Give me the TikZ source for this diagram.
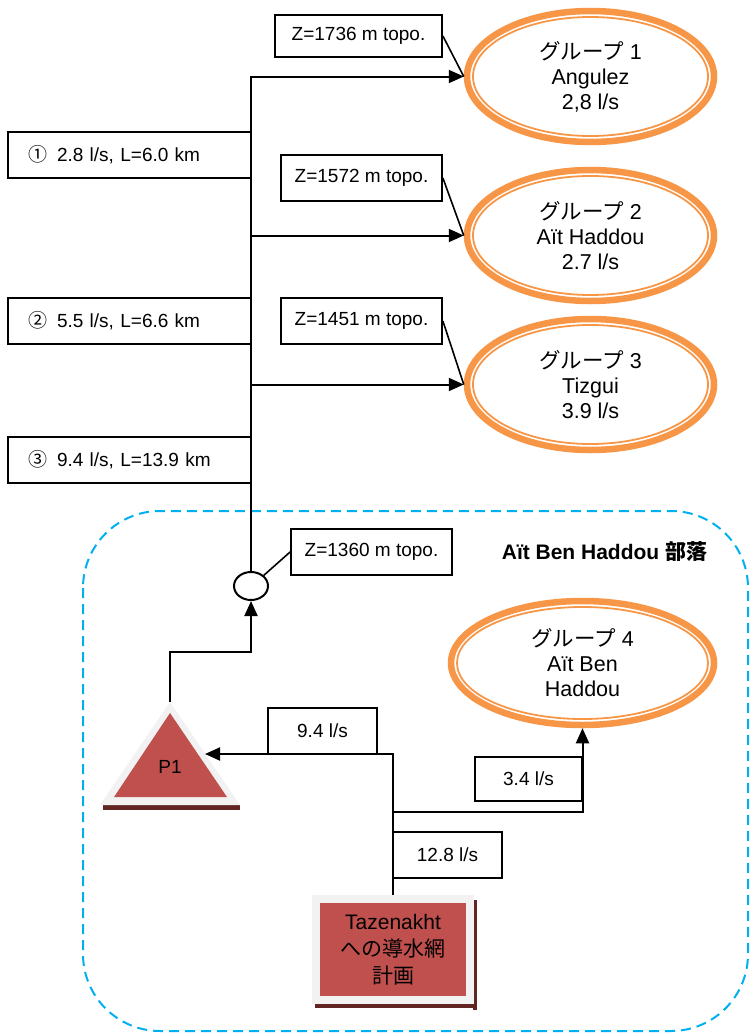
\documentclass[tikz,border=0pt]{standalone}
\usepackage{fontspec}
\setmainfont{Liberation Sans}
\newfontfamily\cjk{Noto Sans CJK JP}
\usetikzlibrary{arrows.meta,shapes.geometric}
\definecolor{orng}{HTML}{F79646}
\definecolor{redc}{HTML}{C0504D}
\definecolor{grayc}{HTML}{F2F2F2}
\definecolor{shadowc}{HTML}{632523}
\definecolor{cyanc}{HTML}{00B0F0}
\begin{document}
\begin{tikzpicture}[x=1pt,y=-1pt,
  conn/.style={line width=2pt},
  leader/.style={line width=1.6pt},
  arr/.style={conn,-{Triangle[length=15pt,width=13pt]}},
  lbl/.style={draw,line width=1.8pt,inner sep=0pt,fill=white,
    font=\fontsize{19}{22}\selectfont},
  flow/.style={lbl,minimum width=243pt,minimum height=46pt,
    text width=203pt,inner xsep=20pt,align=left},
  grp/.style={ellipse,draw=orng,line width=6.5pt,inner sep=0pt,align=center,
    font=\fontsize{21.5}{25}\selectfont},
  ring/.style={draw=orng,line width=1.8pt},
  srcbox/.style={rectangle,fill=redc,draw=grayc,line width=8pt,inner sep=0pt,
    minimum width=154pt,minimum height=101pt,align=center,
    font=\fontsize{21}{27}\selectfont},
  hubnode/.style={ellipse,draw,line width=2pt,fill=white,inner sep=0pt,
    minimum width=34pt,minimum height=28pt}
]
\useasboundingbox (0,0) rectangle (752,1033);

% village boundary
\draw[cyanc,line width=2pt,dash pattern=on 10pt off 6pt,rounded corners=77pt]
  (83,511) rectangle (748,1031);
\node[font=\fontsize{21}{24}\selectfont\bfseries] (rgn) at (604.5,552)
  {Aït Ben Haddou {\cjk 部落}};

% consumer groups
\node[grp,minimum width=247pt,minimum height=131pt] (g1) at (590.5,76.5)
  {{\cjk グループ} 1\\Angulez\\2,8 l/s};
\node[grp,minimum width=247pt,minimum height=131pt] (g2) at (590.5,235.5)
  {{\cjk グループ} 2\\Aït Haddou\\2.7 l/s};
\node[grp,minimum width=247pt,minimum height=131pt] (g3) at (590.5,384.5)
  {{\cjk グループ} 3\\Tizgui\\3.9 l/s};
\node[grp,minimum width=263pt,minimum height=124pt] (g4) at (582.5,663)
  {{\cjk グループ} 4\\Aït Ben\\Haddou};
\foreach \g/\a/\b in {g1/117.5/59.5,g2/117.5/59.5,g3/117.5/59.5,g4/125.5/56}
  \draw[ring] (\g.center) ellipse [x radius=\a pt,y radius=\b pt];

% pipe sections
\node[flow] (q1) at (129.5,155) {{\cjk ①}\hspace{10pt}2.8 l/s, L=6.0 km};
\node[flow] (q2) at (129.5,321) {{\cjk ②}\hspace{10pt}5.5 l/s, L=6.6 km};
\node[flow] (q3) at (129.5,460) {{\cjk ③}\hspace{10pt}9.4 l/s, L=13.9 km};

% junction
\node[hubnode] (hub) at (251,586) {};

% elevations
\node[lbl,minimum width=167pt,minimum height=42pt] (z1) at (358.5,36) {Z=1736 m topo.};
\node[lbl,minimum width=161pt,minimum height=46pt] (z2) at (361.5,178) {Z=1572 m topo.};
\node[lbl,minimum width=161pt,minimum height=46pt] (z3) at (361.5,321) {Z=1451 m topo.};
\node[lbl,minimum width=161pt,minimum height=46pt] (z4) at (371.5,552) {Z=1360 m topo.};

% pumping station P1
\fill[shadowc] (103,805) rectangle (240,810);
\fill[grayc] (170,702) -- (240,805) -- (100,805) -- cycle;
\fill[redc] (170,713) -- (227,797) -- (114,797) -- cycle;
\node[font=\fontsize{19}{22}\selectfont] (p1) at (170,767) {P1};
\coordinate (p1top) at (170,702);
\coordinate (p1r) at (205,754);
\coordinate (pbend) at (251,652);

% source
\fill[shadowc] (473,900) rectangle (477,1010);
\fill[shadowc] (315,1004) rectangle (477,1008);
\node[srcbox] (src) at (393,949.5) {Tazenakht\\{\cjk への導水網}\\{\cjk 計画}};
\coordinate (split) at (393,812);

% flow labels
\node[lbl,minimum width=109pt,minimum height=46pt] (f94) at (322.5,731) {9.4 l/s};
\node[lbl,minimum width=107pt,minimum height=44pt] (f34) at (528.5,779) {3.4 l/s\hspace{12pt}};
\node[lbl,minimum width=109pt,minimum height=46pt] (f128) at (447.5,855) {12.8 l/s};

% main line and branches
\draw[arr] (hub.north) |- (g1.west);
\draw[arr] (hub.north |- g2.west) -- (g2.west);
\draw[arr] (hub.north |- g3.west) -- (g3.west);
\draw[arr] (p1top) |- (pbend) -- (hub.south);
\draw[arr] (src.north) |- (p1r);
\draw[arr] (split) -| (g4.south);

% elevation leaders
\draw[leader] (z1.east) -- (g1.west);
\draw[leader] (z2.east) -- (g2.west);
\draw[leader] (z3.east) -- (g3.west);
\draw[leader] (z4.west) -- (hub.north east);
\end{tikzpicture}
\end{document}
